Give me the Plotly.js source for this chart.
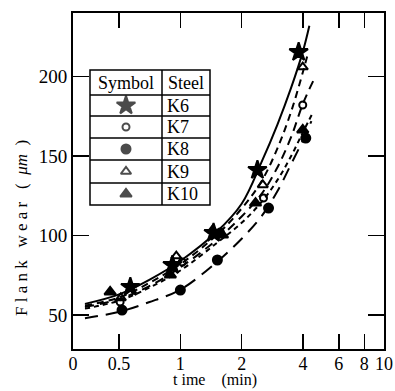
<!DOCTYPE html>
<html><head><meta charset="utf-8">
<script src="https://cdn.plot.ly/plotly-3.0.1.min.js"></script>
<style>body{margin:0;background:#fff}#c{width:395px;height:391px}</style></head>
<body><div id="c"></div>
<script>
// ---- data ----
const steels = ["K6", "K7", "K8", "K9", "K10"];
const timeK6 = [0.568, 0.914, 1.455, 2.39, 3.81];
const wearK6 = [67.6, 81.4, 101.6, 141.2, 215.4];
const timeK7 = [0.506, 1.02, 1.57, 2.56, 3.99];
const wearK7 = [58.2, 83.3, 102.2, 123.6, 182.1];
const timeK8 = [0.517, 1.0, 1.52, 2.71, 4.13];
const wearK8 = [53.1, 65.7, 84.6, 117.3, 161.3];
const timeK9 = [0.51, 0.955, 1.44, 2.54, 3.99];
const wearK9 = [60.7, 87.1, 103.5, 131.8, 206];
const timeK10 = [0.452, 0.893, 1.61, 2.34, 3.99];
const wearK10 = [64.5, 75.2, 100.3, 120.4, 166.4];

// fitted curves
const curveK6x = [0.34, 0.5, 0.7, 1.0, 1.5, 2.0, 2.5, 3.0, 3.5, 4.0, 4.3];
const curveK6y = [57, 63, 72, 84, 102, 120, 146, 170, 193, 216, 232];
const curveK7x = [0.34, 0.5, 0.7, 1.0, 1.5, 2.0, 2.5, 3.0, 3.5, 4.0, 4.6];
const curveK7y = [55, 60, 68, 80, 97, 112, 126, 143, 162, 183, 200];
const curveK8x = [0.34, 0.5, 0.7, 1.0, 1.5, 2.0, 2.5, 3.0, 3.5, 4.0, 4.4];
const curveK8y = [48, 52, 58, 66, 83, 98, 112, 128, 145, 160, 172];
const curveK9x = [0.34, 0.5, 0.7, 1.0, 1.5, 2.0, 2.5, 3.0, 3.5, 4.0, 4.2];
const curveK9y = [56, 61, 70, 82, 100, 117, 134, 155, 178, 203, 213];
const curveK10x = [0.34, 0.5, 0.7, 1.0, 1.5, 2.0, 2.5, 3.0, 3.5, 4.0, 4.5];
const curveK10y = [54, 59, 67, 78, 95, 108, 121, 135, 150, 165, 178];

const xTickVals = [0.297, 0.5, 1, 2, 4, 6, 8, 10];
const xTickText = ["0", "0.5", "1", "2", "4", "6", "8", "10"];
const yTickVals = [50, 100, 150, 200];

// ---- styling ----
const F = "Liberation Serif, Times New Roman, serif";
const series = [
  {name: "K6", x: timeK6, y: wearK6, cx: curveK6x, cy: curveK6y, sym: "star", size: 14, dash: "solid"},
  {name: "K7", x: timeK7, y: wearK7, cx: curveK7x, cy: curveK7y, sym: "circle-open", size: 7, dash: "9px,6px"},
  {name: "K8", x: timeK8, y: wearK8, cx: curveK8x, cy: curveK8y, sym: "circle", size: 9, dash: "13px,8px"},
  {name: "K9", x: timeK9, y: wearK9, cx: curveK9x, cy: curveK9y, sym: "triangle-up-open", size: 9, dash: "7px,5px"},
  {name: "K10", x: timeK10, y: wearK10, cx: curveK10x, cy: curveK10y, sym: "triangle-up", size: 10, dash: "5px,4px"}
];

const traces = [];
series.forEach(s => {
  traces.push({x: s.cx, y: s.cy, mode: "lines", type: "scatter", showlegend: false, hoverinfo: "skip",
    line: {color: "#000", width: 2, dash: s.dash, shape: "spline"}});
});
series.forEach(s => {
  traces.push({x: s.x, y: s.y, mode: "markers", type: "scatter", showlegend: false, name: s.name,
    marker: {symbol: s.sym, size: s.size, color: "#000", line: {color: "#000", width: 2}}});
});

// legend table (pixel-based overlay axes)
const tX0 = 90, tX1 = 210, tXm = 162;
const rowLines = [70, 95, 116, 138, 160, 183, 205];
const rowMid = [];
for (let i = 1; i < 6; i++) rowMid.push((rowLines[i] + rowLines[i + 1]) / 2);
traces.push({x: rowMid.map(() => 126), y: rowMid, xaxis: "x2", yaxis: "y2", mode: "markers", type: "scatter",
  showlegend: false, hoverinfo: "skip", cliponaxis: false,
  marker: {symbol: series.map(s => s.sym), size: series.map(s => s.size), color: "#000", line: {color: "#000", width: 2}}});

const shapes = [{type: "rect", xref: "x2", yref: "y2", x0: tX0, x1: tX1, y0: rowLines[0], y1: rowLines[6],
  line: {color: "#000", width: 1.5}, fillcolor: "#fff", layer: "below"},
  {type: "line", xref: "x2", yref: "y2", x0: tXm, x1: tXm, y0: rowLines[0], y1: rowLines[6], line: {color: "#000", width: 1.5}}];
for (let i = 1; i < 6; i++) shapes.push({type: "line", xref: "x2", yref: "y2", x0: tX0, x1: tX1, y0: rowLines[i], y1: rowLines[i], line: {color: "#000", width: 1.5}});

// pixel -> paper helpers
const PX = p => (p - 73) / 311, PY = p => (349 - p) / 336;
const nb = "\u00a0";
const annotations = [
  {xref: "x2", yref: "y2", x: 126, y: 83, text: "Symbol", showarrow: false, font: {family: F, size: 18, color: "#000"}},
  {xref: "x2", yref: "y2", x: 186, y: 83, text: "Steel", showarrow: false, font: {family: F, size: 18, color: "#000"}},
  {xref: "paper", yref: "paper", x: PX(22), y: PY(228), xanchor: "center", yanchor: "middle",
    text: "F l a n k" + nb + nb + " w e a r" + nb + nb + " (" + nb + nb + "<i>μm</i>" + nb + nb + ")",
    textangle: -90, showarrow: false, font: {family: F, size: 17, color: "#000"}},
  {xref: "paper", yref: "paper", x: PX(215), y: PY(380), xanchor: "center", yanchor: "middle",
    text: "t" + nb + "ime" + nb + nb + nb + nb + "(min)", showarrow: false, font: {family: F, size: 16, color: "#000"}}
];
steels.forEach((s, i) => annotations.push({xref: "x2", yref: "y2", x: 165, y: rowMid[i], xanchor: "left", text: s, showarrow: false, font: {family: F, size: 18, color: "#000"}}));

const layout = {
  width: 395, height: 391, margin: {l: 73, r: 11, t: 13, b: 42},
  paper_bgcolor: "#fff", plot_bgcolor: "#fff", showlegend: false,
  font: {family: F, color: "#000"},
  xaxis: {type: "log", range: [Math.log10(0.297), 1.0], tickvals: xTickVals, ticktext: xTickText,
    ticks: "inside", ticklen: 15, tickwidth: 1.5, tickcolor: "#000", mirror: "ticks", showline: true, linewidth: 2, linecolor: "#000",
    showgrid: false, zeroline: false, ticklabelstandoff: -3, tickfont: {family: F, size: 18, color: "#000"}},
  yaxis: {range: [28.6, 240], tickvals: yTickVals, ticks: "inside", ticklen: 16, tickwidth: 1.5, tickcolor: "#000",
    mirror: "ticks", showline: true, linewidth: 2, linecolor: "#000", showgrid: false, zeroline: false,
    tickfont: {family: F, size: 19, color: "#000"}},
  xaxis2: {overlaying: "x", range: [73, 384], visible: false, fixedrange: true},
  yaxis2: {overlaying: "y", range: [349, 13], visible: false, fixedrange: true},
  shapes: shapes, annotations: annotations
};
Plotly.newPlot("c", traces, layout, {staticPlot: true, displayModeBar: false});
</script></body></html>
